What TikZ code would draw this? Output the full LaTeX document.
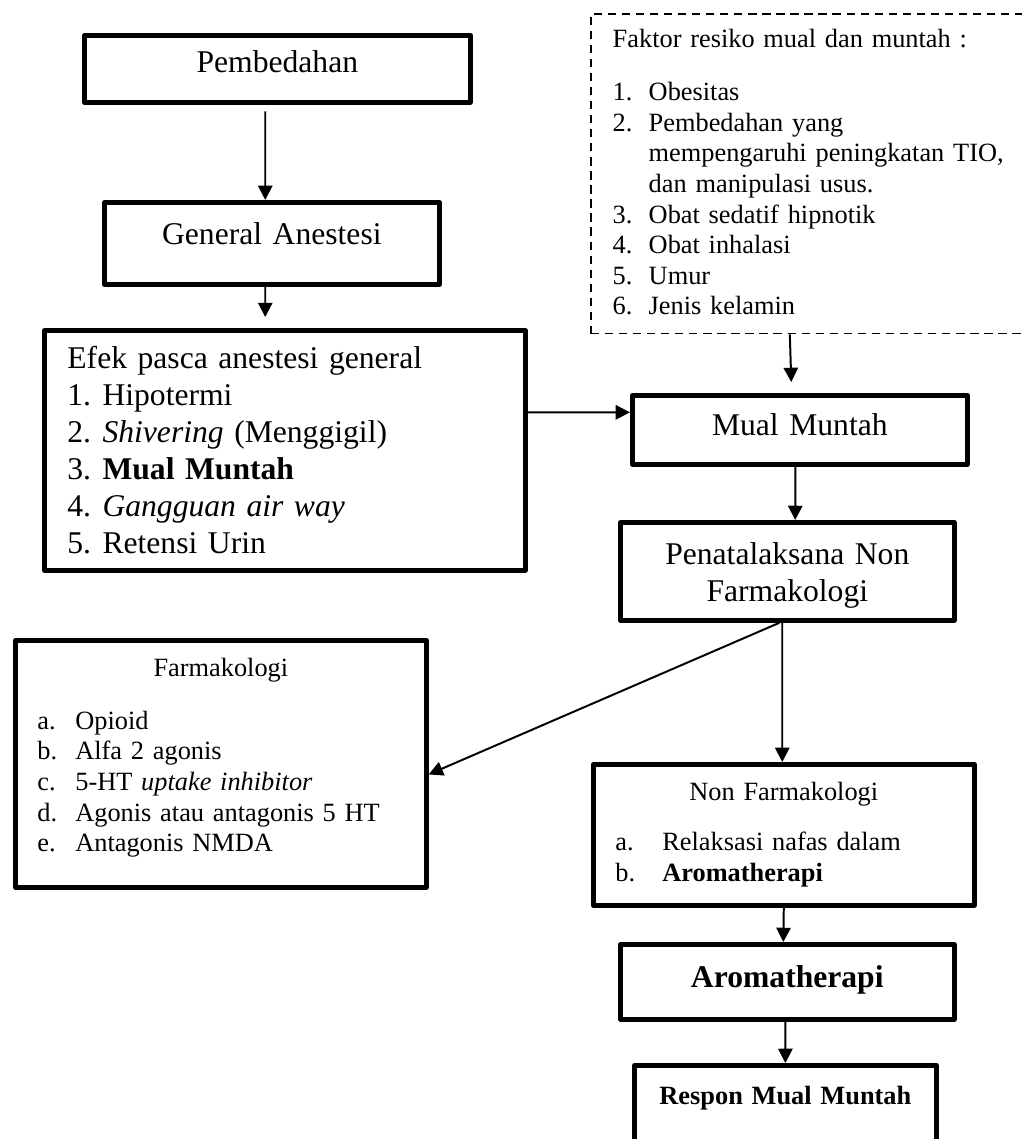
\documentclass[tikz,border=0pt]{standalone}
\usepackage{fontspec}
\setmainfont{Liberation Serif}
\usetikzlibrary{arrows.meta}

\newcommand{\fsbig}{\fontsize{14.4pt}{16.85pt}\selectfont}
\newcommand{\fssmall}{\fontsize{12pt}{13.93pt}\selectfont}
\newcommand{\nomor}[2][16pt]{\makebox[#1][l]{#2}}

\tikzset{
  blockbox/.style={draw, line width=2.2pt, line join=round, inner ysep=0pt, anchor=north west},
  riskbox/.style={draw, line width=0.7pt, dash pattern=on 3.8pt off 2.6pt, inner ysep=0pt, anchor=north west},
  flowarrow/.style={-{Triangle[length=6.5pt,width=6.5pt]}, line width=0.9pt}
}

\begin{document}
\begin{tikzpicture}[x=0.016cm,y=-0.016cm]
			\useasboundingbox (0,0) rectangle (1022,1139);
			\clip (0,0) rectangle (1022,1139);
			% left column
			\node[blockbox, inner xsep=0pt, text width=175.7pt, align=center, text height=16.9pt, text depth=13.6pt, font=\fsbig] (pemb) at (82,33) {Pembedahan};
			\node[blockbox, inner xsep=0pt, text width=152.5pt, align=center, text height=19.12pt, text depth=18.21pt, font=\fsbig] (genan) at (102,200) {General Anestesi};
			\node[blockbox, inner xsep=10.47pt, text width=198pt, align=left, text height=17.3pt, text depth=91.96pt, font=\fsbig] (efek) at (42,328) {Efek pasca anestesi general\\
				\nomor{1.}Hipotermi\\
				\nomor{2.}\textit{Shivering} (Menggigil)\\
				\nomor{3.}\textbf{Mual Muntah}\\
				\nomor{4.}\textit{Gangguan air way}\\
				\nomor{5.}Retensi Urin};
			\node[blockbox, inner xsep=10pt, text width=167.1pt, align=left, text height=16.39pt, text depth=96.06pt, font=\fssmall] (farm) at (13,638) {\makebox[\linewidth]{Farmakologi}\\[10.2pt]
				\nomor[17.3pt]{a.}Opioid\\
				\nomor[17.3pt]{b.}Alfa 2 agonis\\
				\nomor[17.3pt]{c.}5-HT \textit{uptake inhibitor}\\
				\nomor[17.3pt]{d.}Agonis atau antagonis 5 HT\\
				\nomor[17.3pt]{e.}Antagonis NMDA};
			% right column
			\node[riskbox, inner xsep=10pt, text width=184.9pt, align=left, text height=15.48pt, text depth=130.2pt, font=\fssmall] (faktor) at (590,13) {Faktor resiko mual dan muntah :\\[10.2pt]
				\nomor[16.4pt]{1.}Obesitas\\
				\nomor[16.4pt]{2.}Pembedahan yang\\
				\hspace*{16.4pt}mempengaruhi peningkatan TIO,\\
				\hspace*{16.4pt}dan manipulasi usus.\\
				\nomor[16.4pt]{3.}Obat sedatif hipnotik\\
				\nomor[16.4pt]{4.}Obat inhalasi\\
				\nomor[16.4pt]{5.}Umur\\
				\nomor[16.4pt]{6.}Jenis kelamin};
			\node[blockbox, inner xsep=0pt, text width=152.5pt, align=center, text height=18.2pt, text depth=13.2pt, font=\fsbig] (mual) at (630,393) {Mual Muntah};
			\node[blockbox, inner xsep=0pt, text width=152pt, align=center, text height=19.12pt, text depth=25.49pt, font=\fsbig] (pnf) at (618,520) {Penatalaksana Non\\ Farmakologi};
			\node[blockbox, inner xsep=10pt, text width=153.4pt, align=left, text height=16.39pt, text depth=47.8pt, font=\fssmall] (nonf) at (591,762) {\makebox[\linewidth]{Non Farmakologi}\\[9.1pt]
				\nomor[21.4pt]{a.}Relaksasi nafas dalam\\
				\nomor[21.4pt]{b.}\textbf{Aromatherapi}};
			\node[blockbox, inner xsep=0pt, text width=152pt, align=center, text height=19.58pt, text depth=14.57pt, font=\fsbig\bfseries] (aroma) at (618,942) {Aromatherapi};
			\node[blockbox, inner xsep=0pt, text width=137.5pt, align=center, text height=17.75pt, text depth=44.2pt, font=\fssmall\bfseries] (respon) at (632,1063) {Respon Mual Muntah};
			% arrows
			\draw[flowarrow] ([xshift=-5.5pt,yshift=-3pt]pemb.south) -- ([xshift=-3pt]genan.north);
			\draw[flowarrow] ([xshift=-3pt]genan.south) -- ([xshift=-8.9pt,yshift=5pt]efek.north);
			\draw[flowarrow] ([yshift=17.3pt]efek.east) -- ([yshift=8pt]mual.west);
			\draw[flowarrow] ([xshift=-11.8pt]faktor.south) -- ([xshift=-3.9pt,yshift=5pt]mual.north);
			\draw[flowarrow] ([xshift=-2pt]mual.south) -- ([xshift=3.6pt]pnf.north);
			\draw[flowarrow] ([xshift=-3.6pt]pnf.south) -- ([yshift=-4.8pt]farm.east);
			\draw[flowarrow] ([xshift=-2.3pt]pnf.south) -- ([xshift=-0.7pt]nonf.north);
			\draw[flowarrow] (nonf.south) -- ([xshift=-1.8pt]aroma.north);
			\draw[flowarrow] ([xshift=-0.9pt]aroma.south) -- (respon.north);
\end{tikzpicture}
\end{document}
